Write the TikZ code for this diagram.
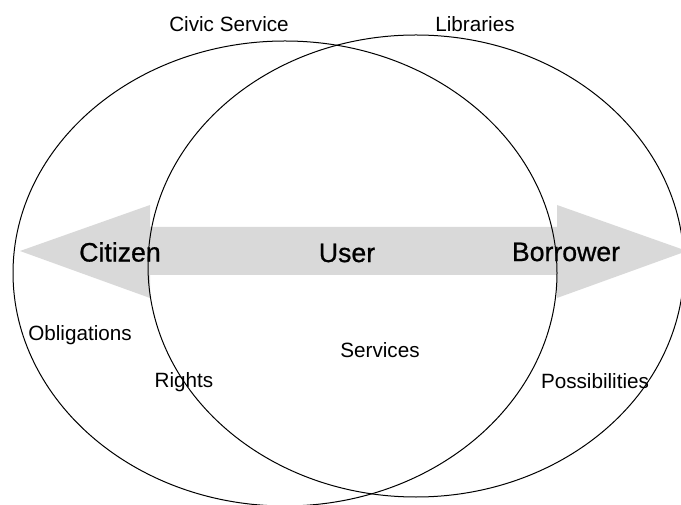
\documentclass[tikz,border=0pt]{standalone}
\usepackage{fontspec}
\setmainfont{Liberation Sans}

\tikzset{every picture/.style={line width=0.75pt}}
\tikzset{
  setlabel/.style={font=\fontsize{15.5}{18}\selectfont},
  rolelabel/.style={font=\fontsize{20}{24}\selectfont\addfontfeature{FakeBold=0.8}},
  partlabel/.style={font=\fontsize{15.5}{18}\selectfont},
}

\begin{document}
\begin{tikzpicture}[x=0.75pt,y=0.75pt,yscale=-1,xscale=1]
\useasboundingbox (0,0) rectangle (681,505);
\clip (0,0) rectangle (681,505);

%Shape: Double Arrow [id:dp0413] 
\fill [color={rgb, 255:red, 217; green, 217; blue, 217 }] (20,251) -- (150,205) -- (150,227) -- (557,227) -- (557,205) -- (687,251) -- (557,298) -- (557,275) -- (150,275) -- (150,298) -- cycle ;

%Shape: Ellipse [id:dp2207] 
\draw  (13,273) .. controls (13,145.42) and (134.78,41) .. (285,41) .. controls (435.22,41) and (557,145.42) .. (557,273) .. controls (557,400.58) and (435.22,506) .. (285,506) .. controls (134.78,506) and (13,400.58) .. (13,273) -- cycle ;
%Shape: Ellipse [id:dp7731] 
\draw  (148,266) .. controls (148,138.42) and (267.99,35) .. (416,35) .. controls (564.01,35) and (684,138.42) .. (684,266) .. controls (684,393.58) and (564.01,497) .. (416,497) .. controls (267.99,497) and (148,393.58) .. (148,266) -- cycle ;

% Text Node
\node [setlabel] (civic) at (229,24) {Civic Service};
% Text Node
\node [setlabel] (libraries) at (475,24) {Libraries};
% Text Node
\node [rolelabel] (citizen) at (120,252) {Citizen};
% Text Node
\node [rolelabel] (user) at (347,253) {User};
% Text Node
\node [rolelabel] (borrower) at (566,252) {Borrower};
% Text Node
\node [partlabel] (obligations) at (80,335) {Obligations};
% Text Node
\node [partlabel] (rights) at (184,382) {Rights};
% Text Node
\node [partlabel] (services) at (380,350) {Services};
% Text Node
\node [partlabel] (possibilities) at (595,381) {Possibilities};

\end{tikzpicture}
\end{document}
